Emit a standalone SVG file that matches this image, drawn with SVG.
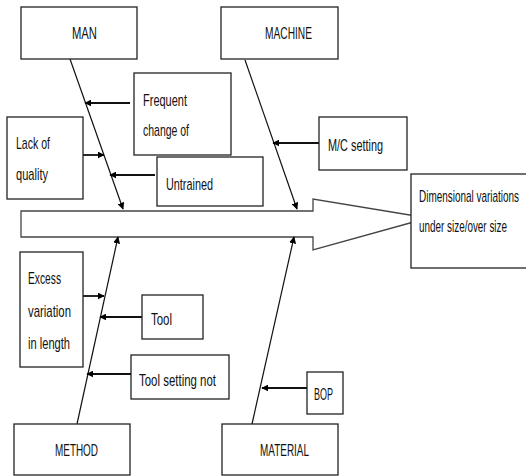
<svg xmlns="http://www.w3.org/2000/svg" width="526" height="476" viewBox="0 0 526 476">
<defs>
<marker id="ah" viewBox="0 0 10 10" refX="9" refY="5" markerWidth="7" markerHeight="7" markerUnits="userSpaceOnUse" orient="auto"><path d="M0,0 L10,5 L0,10 z" fill="#000"/></marker>
<style>
rect{fill:#fff;stroke:#222;stroke-width:1.3}
text{font-family:"Liberation Sans",Arial,sans-serif;font-size:17px;fill:#111}
.c{stroke:#111;stroke-width:1.2;fill:none;marker-end:url(#ah)}
.b{stroke:#111;stroke-width:1.8;fill:none;marker-end:url(#ah)}
</style>
</defs>
<rect width="526" height="476" style="fill:#fff;stroke:none"/>
<g id="spine"><polygon points="21,211 313,211 313,199 428,218 313,250 313,237 21,237" fill="#fff" stroke="#444" stroke-width="1.3"/></g>
<g id="connectors">
<line class="c" x1="70" y1="59" x2="123" y2="209"/>
<line class="c" x1="245" y1="60" x2="297" y2="209"/>
<line class="c" x1="77" y1="424" x2="118" y2="237"/>
<line class="c" x1="252" y1="424" x2="294" y2="237"/>
<line class="b" x1="130" y1="103" x2="85" y2="103"/>
<line class="b" x1="83" y1="155" x2="104" y2="155"/>
<line class="b" x1="155" y1="175" x2="110" y2="175"/>
<line class="b" x1="319" y1="143" x2="273" y2="143"/>
<line class="b" x1="83" y1="296" x2="104" y2="296"/>
<line class="b" x1="142" y1="317" x2="100" y2="317"/>
<line class="b" x1="131" y1="374" x2="87" y2="374"/>
<line class="b" x1="307" y1="388" x2="262" y2="388"/>
</g>
<g id="man"><rect x="21" y="7" width="116" height="52"/><text x="72" y="39" textLength="25" lengthAdjust="spacingAndGlyphs">MAN</text></g>
<g id="machine"><rect x="221" y="7" width="117" height="52"/><text x="265" y="39" textLength="47" lengthAdjust="spacingAndGlyphs">MACHINE</text></g>
<g id="frequent"><rect x="134" y="73" width="97" height="82"/><text x="143" y="106" textLength="44" lengthAdjust="spacingAndGlyphs">Frequent</text><text x="143" y="136" textLength="46" lengthAdjust="spacingAndGlyphs">change of</text></g>
<g id="lack"><rect x="7" y="117" width="76" height="82"/><text x="16" y="149" textLength="34" lengthAdjust="spacingAndGlyphs">Lack of</text><text x="16" y="180" textLength="32" lengthAdjust="spacingAndGlyphs">quality</text></g>
<g id="untrained"><rect x="157" y="157" width="106" height="49"/><text x="166" y="190" textLength="47" lengthAdjust="spacingAndGlyphs">Untrained</text></g>
<g id="mc"><rect x="319" y="117" width="88" height="53"/><text x="328" y="151" textLength="55" lengthAdjust="spacingAndGlyphs">M/C setting</text></g>
<g id="effect"><rect x="411" y="174" width="120" height="94"/><text x="419" y="202" textLength="100" lengthAdjust="spacingAndGlyphs">Dimensional variations</text><text x="419" y="232" textLength="88" lengthAdjust="spacingAndGlyphs">under size/over size</text></g>
<g id="excess"><rect x="20" y="252" width="63" height="115"/><text x="28" y="284" textLength="33" lengthAdjust="spacingAndGlyphs">Excess</text><text x="28" y="317" textLength="43" lengthAdjust="spacingAndGlyphs">variation</text><text x="28" y="349" textLength="42" lengthAdjust="spacingAndGlyphs">in length</text></g>
<g id="tool"><rect x="142" y="295" width="61" height="44"/><text x="151" y="325" textLength="21" lengthAdjust="spacingAndGlyphs">Tool</text></g>
<g id="toolsetting"><rect x="131" y="355" width="98" height="44"/><text x="139" y="386" textLength="77" lengthAdjust="spacingAndGlyphs">Tool setting not</text></g>
<g id="bop"><rect x="307" y="372" width="36" height="42"/><text x="314" y="400" textLength="19" lengthAdjust="spacingAndGlyphs">BOP</text></g>
<g id="method"><rect x="14" y="424" width="116" height="51"/><text x="55" y="456" textLength="43" lengthAdjust="spacingAndGlyphs">METHOD</text></g>
<g id="material"><rect x="222" y="424" width="116" height="51"/><text x="260" y="456" textLength="49" lengthAdjust="spacingAndGlyphs">MATERIAL</text></g>
</svg>
